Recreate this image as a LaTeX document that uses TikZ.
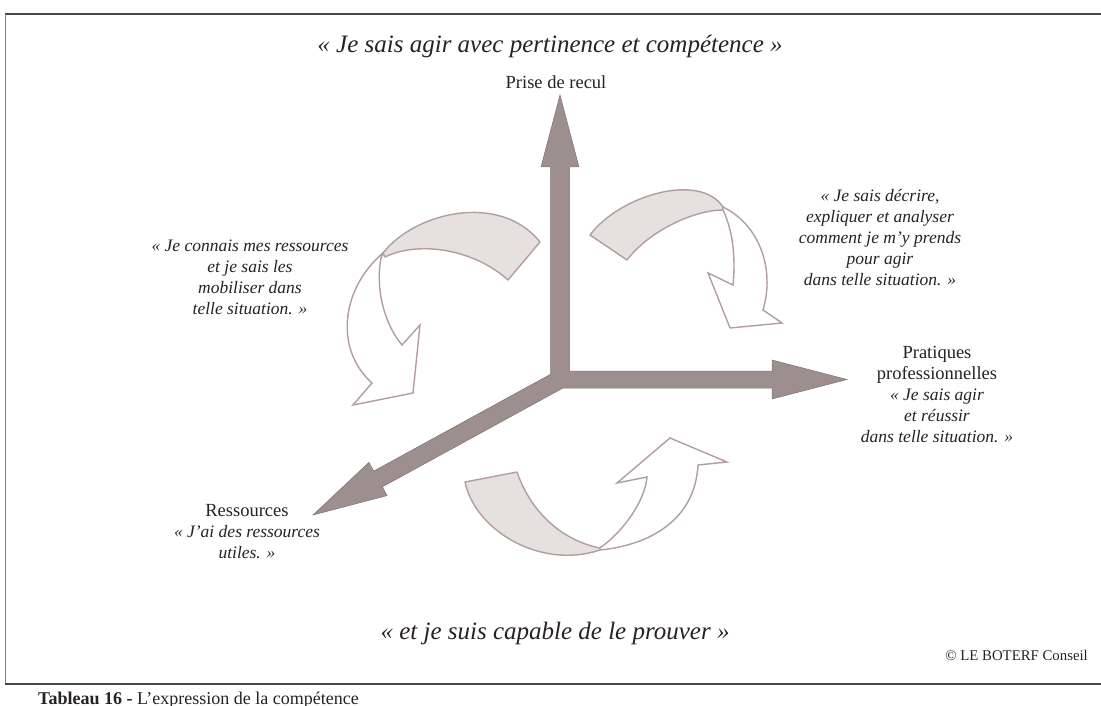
\documentclass[tikz,border=0pt]{standalone}
\usepackage{fontspec}
\setmainfont{Liberation Serif}
\definecolor{axisc}{RGB}{156,143,141}
\definecolor{axisedge}{RGB}{128,114,112}
\definecolor{linec}{RGB}{178,158,158}
\definecolor{bandc}{RGB}{230,224,224}
\definecolor{txtc}{RGB}{40,34,34}
\definecolor{framec}{RGB}{70,70,70}
\tikzset{
  axisshape/.style={fill=axisc, draw=axisedge, line width=0.5pt, line join=miter},
  band/.style={fill=bandc, draw=linec, line width=1.4pt, line join=round},
  front/.style={fill=white, draw=linec, line width=1.4pt, line join=miter},
  titletext/.style={font=\itshape\fontsize{25}{30}\selectfont, text=txtc, inner sep=0pt},
  quotetext/.style={font=\itshape\fontsize{17.5}{21}\selectfont, align=center, text=txtc, inner sep=0pt},
  labtext/.style={font=\fontsize{18.5}{21}\selectfont, align=center, text=txtc, inner sep=0pt},
  smalltext/.style={font=\fontsize{14.8}{17}\selectfont, text=txtc, inner sep=0pt},
}
\begin{document}
\begin{tikzpicture}[x=1pt,y=-1pt]
\useasboundingbox (0,0) rectangle (1101,706);
\clip (0,0) rectangle (1101,706);
\fill[white] (0,0) rectangle (1101,706);
% frame
\draw[framec, line width=1.8pt] (5,14) -- (1101,14);
\draw[framec!70, line width=1pt] (5,14) -- (5,684);
\draw[framec, line width=1.8pt] (5,684) -- (1101,684);
% axes
\path[axisshape] (560,95) -- (579,167) -- (569.5,167) -- (569.5,371) -- (772,371) -- (772,360)
  -- (847,379.5) -- (772,399) -- (772,388) -- (563,388) -- (382.3,486.9) -- (387.1,495.6)
  -- (313,515) -- (368.9,462.4) -- (373.7,471.1) -- (550.5,374.3) -- (550.5,167) -- (541,167) -- cycle;
% curved arrow 1 (left)
\path[band] (383,253) .. controls (415,212) and (500,192) .. (540,242) -- (508,280)
  .. controls (475,250) and (420,240) .. (385,257) -- cycle;
\path[front] (383,253) .. controls (340,290) and (335,350) .. (372,383) -- (353,405) -- (413,393)
  -- (420,325) -- (402,345) .. controls (385,325) and (375,290) .. (381,258) -- cycle;
% curved arrow 2 (right)
\path[band] (590,235) .. controls (620,195) and (700,172) .. (723,207) -- (723,210)
  .. controls (695,210) and (650,230) .. (627,260) -- cycle;
\path[front] (723,207) .. controls (760,225) and (775,270) .. (763,310) -- (782,323) -- (730,328)
  -- (708,273) -- (733,285) .. controls (735,265) and (735,235) .. (723,210) -- cycle;
% curved arrow 3 (bottom)
\path[band] (465,482) -- (517,472) .. controls (530,510) and (560,540) .. (600,548) -- (600,550)
  .. controls (540,570) and (475,530) .. (465,482) -- cycle;
\path[front] (600,548) .. controls (625,530) and (645,500) .. (647,477) -- (617,483) -- (670,438)
  -- (727,462) -- (698,465) .. controls (695,520) and (650,545) .. (600,550) -- cycle;
% texts
\node[titletext] (toptitle) at (550,46) {« Je sais agir avec pertinence et compétence »};
\node[labtext] (recul) at (556,82) {Prise de recul};
\node[quotetext] (qleft) at (250,277) {« Je connais mes ressources\\et je sais les\\mobiliser dans\\telle situation. »};
\node[quotetext] (qright) at (880,238) {« Je sais décrire,\\expliquer et analyser\\comment je m’y prends\\pour agir\\dans telle situation. »};
\node[labtext] (pratiques) at (937,394) {Pratiques\\professionnelles\\\fontsize{17.5}{21}\selectfont\itshape « Je sais agir\\\fontsize{17.5}{21}\selectfont\itshape et réussir\\\fontsize{17.5}{21}\selectfont\itshape dans telle situation. »};
\node[labtext] (ressources) at (247,532) {Ressources\\\fontsize{17.5}{21}\selectfont\itshape « J’ai des ressources\\\fontsize{17.5}{21}\selectfont\itshape utiles. »};
\node[titletext] (bottitle) at (555,633) {« et je suis capable de le prouver »};
\node[smalltext, anchor=east] (copyr) at (1088,655) {© LE BOTERF Conseil};
\node[smalltext, anchor=base west, font=\fontsize{18}{20}\selectfont] (caption) at (38,704) {\textbf{Tableau 16 -} L’expression de la compétence};
\end{tikzpicture}
\end{document}
